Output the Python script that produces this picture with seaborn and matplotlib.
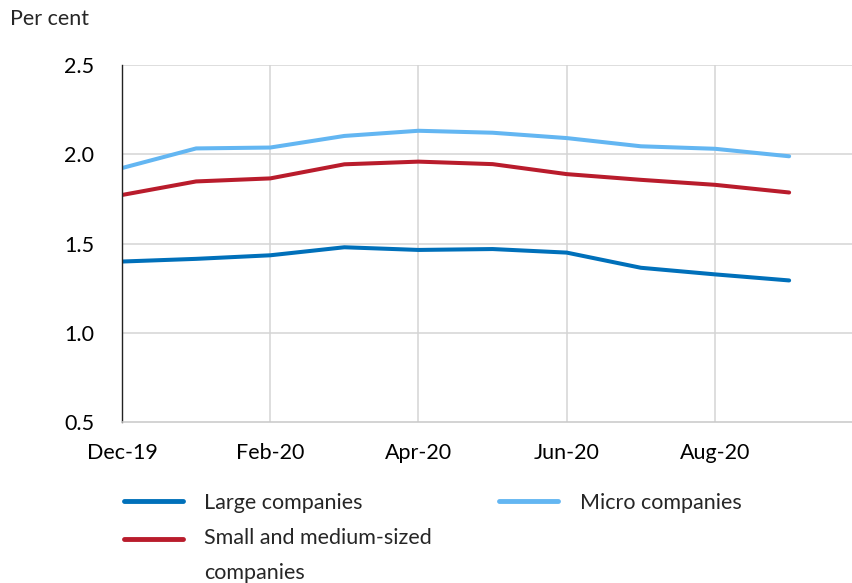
import matplotlib
matplotlib.use("Agg")
import matplotlib.pyplot as plt
from matplotlib.lines import Line2D
import pandas as pd
import seaborn as sns

months = ["Dec-19", "Jan-20", "Feb-20", "Mar-20", "Apr-20",
          "May-20", "Jun-20", "Jul-20", "Aug-20", "Sep-20"]
large = [1.40, 1.415, 1.435, 1.48, 1.465, 1.47, 1.45, 1.365, 1.328, 1.294]
small_medium = [1.773, 1.849, 1.866, 1.945, 1.96, 1.946, 1.89, 1.858, 1.83, 1.787]
micro = [1.924, 2.034, 2.039, 2.104, 2.133, 2.122, 2.092, 2.046, 2.032, 1.99]

series_names = ["Large companies", "Small and medium-sized\ncompanies", "Micro companies"]
series_values = [large, small_medium, micro]
colors = ["#0070BA", "#B91C2C", "#63B6F2"]

rows = []
for name, vals in zip(series_names, series_values):
    for i, (m, v) in enumerate(zip(months, vals)):
        rows.append({"pos": i, "month": m, "series": name, "value": v})
df = pd.DataFrame(rows)

sns.set_theme(style="white")
plt.rcParams["font.family"] = ["Lato", "DejaVu Sans"]
FS = 15.5

fig = plt.figure(figsize=(8.53, 5.83), dpi=100)
ax = fig.add_axes([0.143, 0.276, 0.856, 0.612])

sns.lineplot(data=df, x="pos", y="value", hue="series", palette=colors,
             hue_order=series_names, linewidth=2.9, ax=ax, legend=False)

ax.set_xlim(0, 9.85)
ax.set_ylim(0.5, 2.5)
ax.set_yticks([0.5, 1.0, 1.5, 2.0, 2.5])
ax.set_yticklabels(["0.5", "1.0", "1.5", "2.0", "2.5"])
tick_pos = [0, 2, 4, 6, 8]
ax.set_xticks(tick_pos)
ax.set_xticklabels([months[i] for i in tick_pos])

# Gridlines: horizontal at every tick, vertical every second month (not on the spine)
for y in [1.0, 1.5, 2.0, 2.5]:
    ax.axhline(y, color="#D4D4D4", lw=1.1, zorder=0)
for x in [2, 4, 6, 8]:
    ax.axvline(x, color="#D4D4D4", lw=1.1, zorder=0)

for side in ["top", "right"]:
    ax.spines[side].set_visible(False)
ax.spines["left"].set_color("#222222")
ax.spines["left"].set_linewidth(1.0)
ax.spines["bottom"].set_color("#C8C8C8")
ax.spines["bottom"].set_linewidth(1.1)

ax.tick_params(axis="y", direction="in", length=6, width=1.2, color="#555555",
               labelsize=FS, pad=20, labelcolor="black")
ax.tick_params(axis="x", length=0, labelsize=FS, pad=15, labelcolor="black")
ax.set_xlabel("")
ax.set_ylabel("")

fig.text(0.012, 0.968, "Per cent", fontsize=FS, ha="left", va="center")

handles = [Line2D([0], [0], color=c, lw=3.5) for c in colors]
leg = fig.legend(handles, series_names, ncol=2, loc="upper left",
                 bbox_to_anchor=(0.145, 0.155), frameon=False, fontsize=FS,
                 handlelength=2.75, handletextpad=1.0, columnspacing=3.1,
                 labelspacing=0.7, borderaxespad=0, borderpad=0)
for t in leg.get_texts():
    t.set_linespacing(1.95)

# Keep the two-line entry's swatch level with its first line of text
two_line = leg.legend_handles[1]
two_line.set_ydata([v + 12 for v in two_line.get_ydata()])

fig.savefig("out.png", dpi=100)
